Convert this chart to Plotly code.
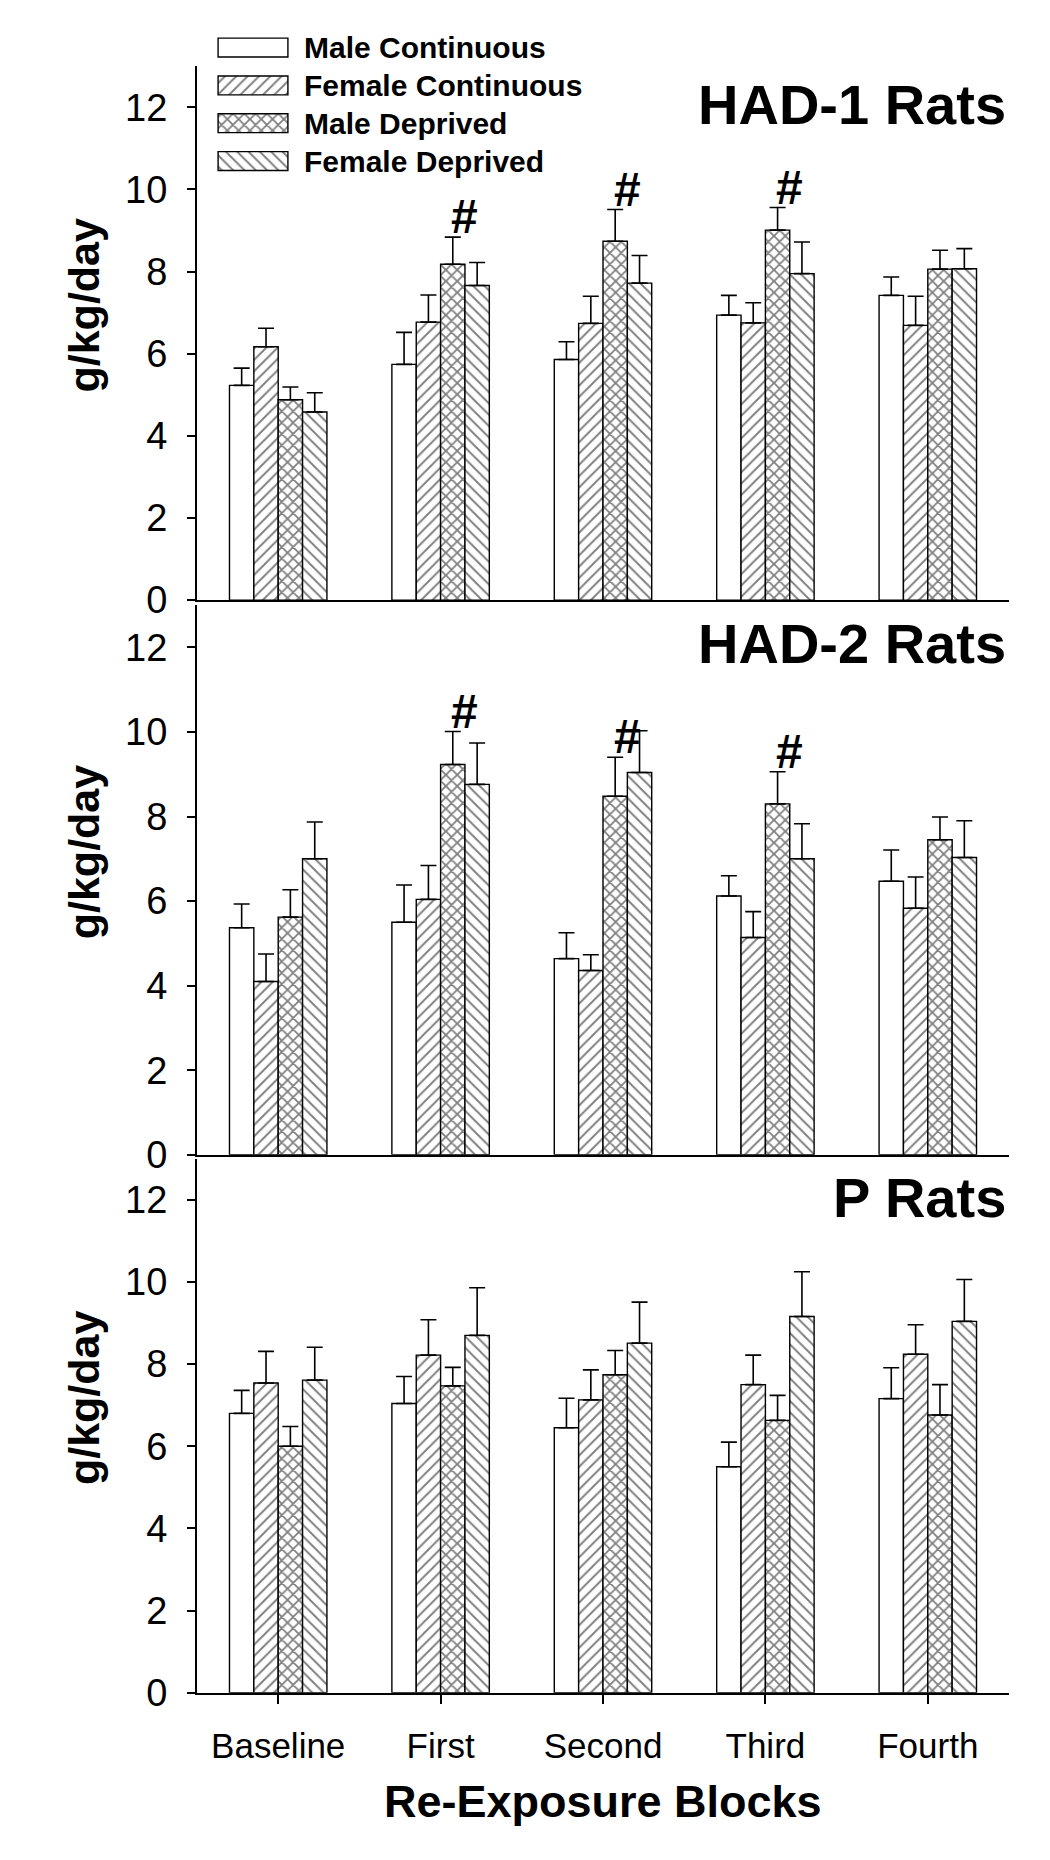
import plotly.graph_objects as go

# ---------------- data ----------------
categories = ["Baseline", "First", "Second", "Third", "Fourth"]
series = ["Male Continuous", "Female Continuous", "Male Deprived", "Female Deprived"]
patterns = ["", "/", "x", "\\"]

had1_mc = [5.23, 5.74, 5.86, 6.94, 7.42]
had1_fc = [6.17, 6.77, 6.74, 6.75, 6.69]
had1_md = [4.88, 8.18, 8.74, 9.01, 8.06]
had1_fd = [4.58, 7.66, 7.72, 7.95, 8.07]
had1_mc_err = [0.42, 0.78, 0.43, 0.48, 0.45]
had1_fc_err = [0.45, 0.66, 0.66, 0.49, 0.71]
had1_md_err = [0.31, 0.66, 0.77, 0.55, 0.46]
had1_fd_err = [0.47, 0.56, 0.67, 0.77, 0.49]
had1_sig = [False, True, True, True, False]

had2_mc = [5.37, 5.50, 4.64, 6.12, 6.47]
had2_fc = [4.10, 6.04, 4.36, 5.14, 5.83]
had2_md = [5.62, 9.23, 8.48, 8.30, 7.45]
had2_fd = [7.00, 8.76, 9.04, 7.00, 7.03]
had2_mc_err = [0.56, 0.88, 0.61, 0.48, 0.74]
had2_fc_err = [0.65, 0.80, 0.37, 0.61, 0.74]
had2_md_err = [0.65, 0.78, 0.92, 0.76, 0.54]
had2_fd_err = [0.87, 0.98, 0.99, 0.83, 0.87]
had2_sig = [False, True, True, True, False]

p_mc = [6.80, 7.04, 6.45, 5.50, 7.16]
p_fc = [7.54, 8.22, 7.13, 7.50, 8.24]
p_md = [6.00, 7.47, 7.74, 6.63, 6.76]
p_fd = [7.61, 8.70, 8.51, 9.16, 9.04]
p_mc_err = [0.56, 0.66, 0.72, 0.60, 0.75]
p_fc_err = [0.77, 0.86, 0.73, 0.72, 0.72]
p_md_err = [0.48, 0.45, 0.59, 0.61, 0.74]
p_fd_err = [0.80, 1.16, 1.00, 1.09, 1.02]
p_sig = [False, False, False, False, False]

panel_titles = ["HAD-1 Rats", "HAD-2 Rats", "P Rats"]
y_ticks = [0, 2, 4, 6, 8, 10, 12]
y_title = "g/kg/day"
x_title = "Re-Exposure Blocks"

panels = [
    ([had1_mc, had1_fc, had1_md, had1_fd], [had1_mc_err, had1_fc_err, had1_md_err, had1_fd_err], had1_sig),
    ([had2_mc, had2_fc, had2_md, had2_fd], [had2_mc_err, had2_fc_err, had2_md_err, had2_fd_err], had2_sig),
    ([p_mc, p_fc, p_md, p_fd], [p_mc_err, p_fc_err, p_md_err, p_fd_err], p_sig),
]

# ---------------- layout geometry (pixels) ----------------
W, H = 1050, 1860
FONT = "Liberation Sans, Arial, Helvetica, sans-serif"
x_left, x_right = 197, 1009
panel_px = [(67, 607), (612, 1168), (1172, 1712)]
solidities = [0.24, 0.24, 0.4, 0.24]


def pat(s):
    return dict(shape=patterns[s], fgcolor="black", bgcolor="white", size=8,
                solidity=solidities[s], fillmode="overlay")


def py(v):
    return 1 - v / H


fig = go.Figure()

for i, (means, errs, sig) in enumerate(panels):
    xa = "x" if i == 0 else f"x{i+1}"
    ya = "y" if i == 0 else f"y{i+1}"
    for s in range(4):
        fig.add_trace(go.Bar(
            x=categories, y=means[s], name=series[s], showlegend=False,
            xaxis=xa, yaxis=ya,
            marker=dict(color="white", line=dict(color="black", width=1.4), pattern=pat(s)),
            error_y=dict(type="data", symmetric=False, array=errs[s],
                         arrayminus=[0] * len(errs[s]), width=8, thickness=1.6, color="black"),
        ))
    # significance markers above Male Deprived
    for k, flag in enumerate(sig):
        if flag:
            fig.add_annotation(x=k + 0.15, y=means[2][k] + errs[2][k], xref=xa, yref=ya,
                               text="<b>#</b>", showarrow=False, yanchor="bottom",
                               yshift=-8, font=dict(size=48, family=FONT, color="black"))
    # panel title
    top, bot = panel_px[i]
    fig.add_annotation(x=1008 / W, y=py(top + 39), xref="paper", yref="paper",
                       text=f"<b>{panel_titles[i]}</b>", showarrow=False,
                       xanchor="right", yanchor="middle",
                       font=dict(size=56, family=FONT, color="black"))
    # y title
    fig.add_annotation(x=84 / W, y=py((top + bot) / 2 - 28), xref="paper", yref="paper",
                       text=f"<b>{y_title}</b>", showarrow=False, textangle=-90,
                       xanchor="center", yanchor="middle",
                       font=dict(size=43, family=FONT, color="black"))

    is_bottom = (i == 2)
    fig.update_layout(**{
        ("xaxis" if i == 0 else f"xaxis{i+1}"): dict(
            domain=[x_left / W, x_right / W], anchor=ya, range=[-0.5, 4.5],
            showline=True, linecolor="black", linewidth=2,
            ticks="outside" if is_bottom else "", ticklen=9, tickwidth=1.5, tickcolor="black",
            showticklabels=is_bottom, showgrid=False, zeroline=False,
            tickfont=dict(size=35, family=FONT, color="black"),
            ticklabelstandoff=12,
        ),
        ("yaxis" if i == 0 else f"yaxis{i+1}"): dict(
            domain=[py(bot), py(top)], anchor=xa, range=[0, 13],
            tickvals=y_ticks, ticks="outside", ticklen=8, tickwidth=1.5, tickcolor="black",
            showline=True, linecolor="black", linewidth=2,
            showgrid=False, zeroline=False,
            tickfont=dict(size=38, family=FONT, color="black"),
            ticklabelstandoff=12,
        ),
    })

# x-axis title
fig.add_annotation(x=(x_left + x_right) / 2 / W, y=py(1822), xref="paper", yref="paper",
                   text=f"<b>{x_title}</b>", showarrow=False, xanchor="center", yanchor="middle",
                   font=dict(size=45, family=FONT, color="black"))

# ---------------- custom legend (pattern swatches) ----------------
fig.add_trace(go.Bar(
    x=[1] * len(series), y=series, orientation="h", base=0, width=0.5,
    xaxis="x4", yaxis="y4", showlegend=False, hoverinfo="skip",
    marker=dict(color="white", line=dict(color="black", width=1.4),
                pattern=dict(shape=patterns, fgcolor="black", bgcolor="white", size=8,
                             solidity=solidities, fillmode="overlay")),
))
fig.update_layout(
    xaxis4=dict(domain=[216 / W, 290 / W], anchor="y4", range=[-0.03, 1.03],
                visible=False, fixedrange=True),
    yaxis4=dict(domain=[py(182), py(29)], anchor="x4", side="right",
                categoryorder="array", categoryarray=series, autorange="reversed",
                showline=False, showgrid=False, zeroline=False, ticks="",
                ticklabelstandoff=13,
                tickfont=dict(size=30, family=FONT, color="black", weight="bold")),
)

fig.update_layout(
    width=W, height=H, margin=dict(l=0, r=0, t=0, b=0),
    paper_bgcolor="white", plot_bgcolor="white",
    barmode="group", bargap=0.4, bargroupgap=0,
    showlegend=False,
    font=dict(family=FONT, color="black"),
)

fig.write_html("out.html", config={"displayModeBar": False},
               post_script="document.body.style.margin='0';")
